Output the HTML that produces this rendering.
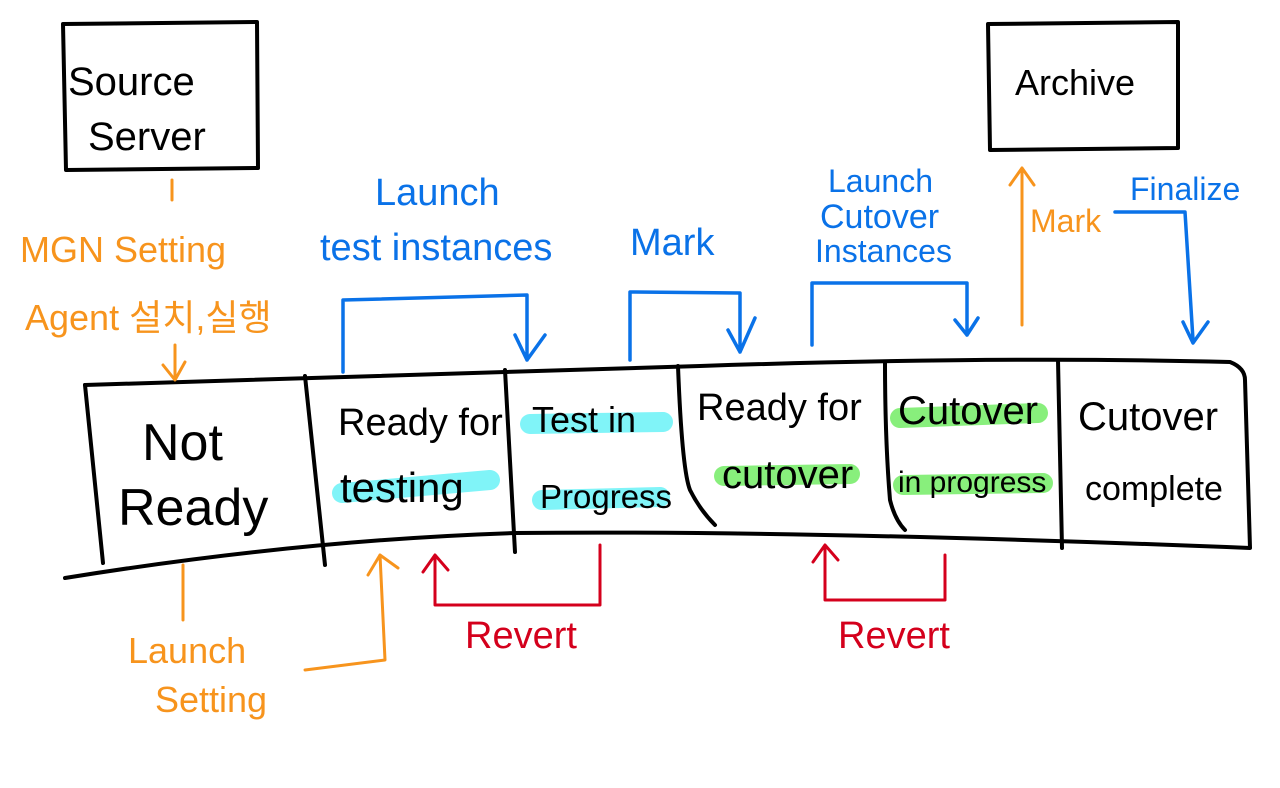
<!DOCTYPE html>
<html><head><meta charset="utf-8"><style>
body{margin:0;background:#fff;width:1280px;height:783px;overflow:hidden}
svg text{font-family:"Liberation Sans","Noto Sans CJK KR",sans-serif}
</style></head><body>
<svg width="1280" height="783" viewBox="0 0 1280 783" xmlns="http://www.w3.org/2000/svg">
<g fill="none" stroke-linecap="round" stroke-linejoin="round">
<g stroke-width="20">
<path d="M342 493 L490 480" stroke="#80f4f8"/>
<path d="M530 424 L663 422" stroke="#80f4f8"/>
<path d="M542 500 L660 497" stroke="#80f4f8"/>
<path d="M724 476 L850 474" stroke="#88ef7c"/>
<path d="M900 418 L1038 413" stroke="#88ef7c"/>
<path d="M903 485 L1043 483" stroke="#88ef7c"/>
</g>
<g stroke="#000" stroke-width="4">
<path d="M63 24 L257 22 L258 168 L66 170 Z"/>
<path d="M988 24 L1178 22 L1178 148 L990 150 Z"/>
<path d="M85 385 Q500 372 700 366 Q1000 356 1230 362 Q1245 368 1245 380 L1250 548 Q800 530 515 533 Q300 540 65 578"/>
<path d="M85 385 L103 563"/>
<path d="M305 376 L325 565"/>
<path d="M505 370 L515 552"/>
<path d="M678 366 Q682 470 690 490 Q700 510 715 525"/>
<path d="M885 362 Q885 440 890 500 Q895 520 905 530"/>
<path d="M1058 360 L1062 548"/>
</g>
<g stroke="#0a72e8" stroke-width="3.5">
<path d="M343 372 L343 300 L527 295 L527 360 M515 335 L527 360 L545 335"/>
<path d="M630 360 L630 292 L740 293 L740 352 M728 330 L740 352 L755 318"/>
<path d="M812 345 L812 283 L967 283 L967 335 M955 320 L967 335 L978 318"/>
<path d="M1115 212 L1185 212 L1193 340 M1183 322 L1193 343 L1208 322"/>
</g>
<g stroke="#f7941d" stroke-width="3">
<path d="M172 180 L172 200"/>
<path d="M175 345 L175 380 M163 365 L175 380 L185 362"/>
<path d="M1022 325 L1022 168 M1010 185 L1022 168 L1034 185"/>
<path d="M183 565 L183 620"/>
<path d="M305 670 L385 660 L380 555 M368 575 L380 555 L398 568"/>
</g>
<g stroke="#d4001c" stroke-width="3">
<path d="M600 545 L600 605 L435 605 L435 558 M423 572 L435 555 L448 570"/>
<path d="M945 555 L945 600 L825 600 L825 548 M813 562 L825 545 L838 560"/>
</g>
</g>
<g font-size="40" fill="#000">
<text x="68" y="95">Source</text>
<text x="88" y="150">Server</text>
<text x="1015" y="95" font-size="36">Archive</text>
<text x="142" y="460" font-size="52">Not</text>
<text x="118" y="525" font-size="52">Ready</text>
<text x="338" y="435" font-size="38">Ready for</text>
<text x="340" y="502" font-size="42">testing</text>
<text x="532" y="432" font-size="36">Test in</text>
<text x="540" y="508" font-size="33">Progress</text>
<text x="697" y="420" font-size="38">Ready for</text>
<text x="722" y="488" font-size="40">cutover</text>
<text x="898" y="424" font-size="40">Cutover</text>
<text x="898" y="492" font-size="30">in progress</text>
<text x="1078" y="430" font-size="40">Cutover</text>
<text x="1085" y="500" font-size="34">complete</text>
</g>
<g font-size="38" fill="#0a72e8">
<text x="375" y="205">Launch</text>
<text x="320" y="260">test instances</text>
<text x="630" y="255">Mark</text>
<text x="828" y="192" font-size="32">Launch</text>
<text x="820" y="228" font-size="34">Cutover</text>
<text x="815" y="262" font-size="32">Instances</text>
<text x="1130" y="200" font-size="32">Finalize</text>
</g>
<g fill="#f7941d" font-size="36">
<text x="20" y="262">MGN Setting</text>
<text x="25" y="330">Agent 설치,실행</text>
<text x="1030" y="232" font-size="32">Mark</text>
<text x="128" y="663">Launch</text>
<text x="155" y="712">Setting</text>
</g>
<g fill="#d4001c" font-size="38">
<text x="465" y="648">Revert</text>
<text x="838" y="648">Revert</text>
</g>
</svg>
</body></html>
